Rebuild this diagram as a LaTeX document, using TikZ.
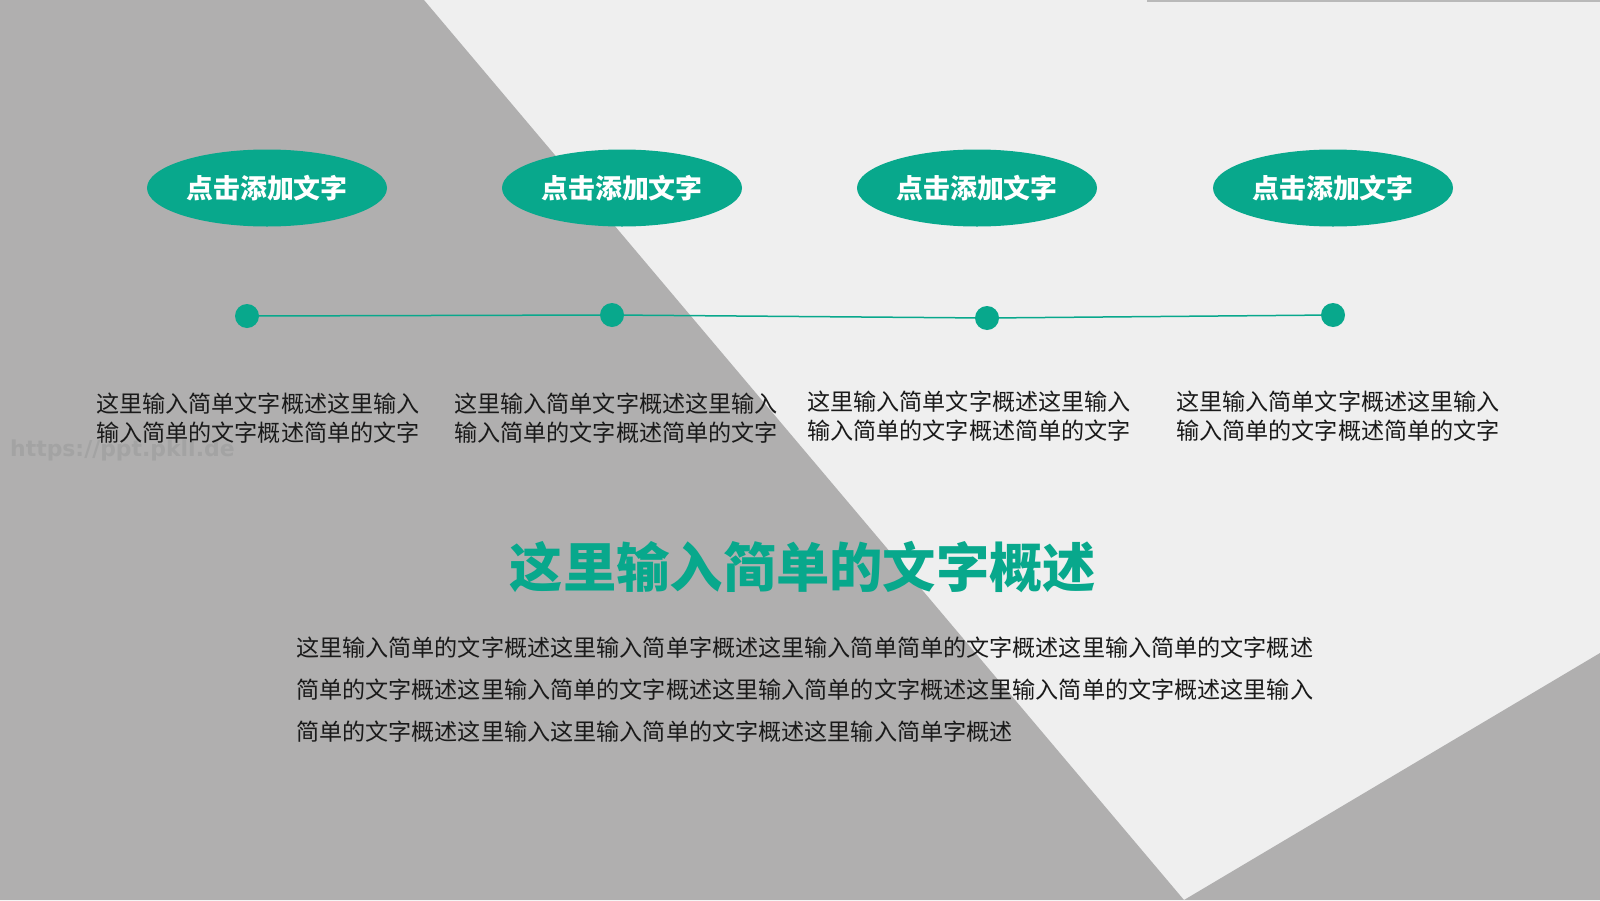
\documentclass[tikz,border=0pt]{standalone}
\usepackage{fontspec}
\setmainfont{Noto Sans CJK SC}
\newfontfamily\wmfont{DejaVu Sans}
\usetikzlibrary{shapes.geometric}
\definecolor{bggray}{RGB}{176,175,175}
\definecolor{bglight}{RGB}{239,239,239}
\definecolor{teal}{RGB}{8,168,140}
\definecolor{txt}{RGB}{26,26,26}
\definecolor{wm}{RGB}{163,163,163}
\tikzset{
  pill/.style={ellipse, fill=teal, minimum width=240bp, minimum height=77bp, inner sep=0pt,
    text=white, font=\fontsize{27}{31}\selectfont\bfseries},
  dot/.style={circle, fill=teal, minimum size=24bp, inner sep=0pt},
  link/.style={draw=teal, line width=1.5bp},
  small/.style={anchor=base west, inner sep=0pt, text=txt, font=\fontsize{23.2}{28}\selectfont},
  body/.style={anchor=base west, inner sep=0pt, text=txt, font=\fontsize{23.2}{28}\selectfont},
}
\begin{document}
\begin{tikzpicture}[x=1bp,y=-1bp]
\useasboundingbox (0,0) rectangle (1600,900);
\fill[bglight] (0,0) rectangle (1600,900);
\fill[bggray] (0,0) -- (424,0) -- (1184,900) -- (0,900) -- cycle;
\fill[bggray] (1184,900) -- (1600,653) -- (1600,900) -- cycle;
\fill[bggray!85!bglight] (1147,0) rectangle (1600,2);

\node[anchor=base west, inner sep=0pt, text=wm, font=\wmfont\bfseries\fontsize{22}{26}\selectfont] (wmark) at (10,456) {https://ppt.pkll.de};

\node[pill] (e1) at (267,188) {点击添加文字};
\node[pill] (e2) at (622,188) {点击添加文字};
\node[pill] (e3) at (977,188) {点击添加文字};
\node[pill] (e4) at (1333,188) {点击添加文字};

\node[dot] (d1) at (247,316) {};
\node[dot] (d2) at (612,315) {};
\node[dot] (d3) at (987,318) {};
\node[dot] (d4) at (1333,315) {};
\draw[link] (d1) -- (d2) -- (d3) -- (d4);

\node[small] (a1) at (96,412) {这里输入简单文字概述这里输入};
\node[small] (a2) at (96,441) {输入简单的文字概述简单的文字};
\node[small] (b1) at (454,412) {这里输入简单文字概述这里输入};
\node[small] (b2) at (454,441) {输入简单的文字概述简单的文字};
\node[small] (c1) at (807,410) {这里输入简单文字概述这里输入};
\node[small] (c2) at (807,439) {输入简单的文字概述简单的文字};
\node[small] (f1) at (1176,410) {这里输入简单文字概述这里输入};
\node[small] (f2) at (1176,439) {输入简单的文字概述简单的文字};

\node[anchor=base, inner sep=0pt, text=teal, font=\fontsize{53.5}{60}\selectfont\bfseries] (title) at (803,587) {这里输入简单的文字概述};

\node[body] (p1) at (296,656) {这里输入简单的文字概述这里输入简单字概述这里输入简单简单的文字概述这里输入简单的文字概述};
\node[body] (p2) at (296,698) {简单的文字概述这里输入简单的文字概述这里输入简单的文字概述这里输入简单的文字概述这里输入};
\node[body] (p3) at (296,740) {简单的文字概述这里输入这里输入简单的文字概述这里输入简单字概述};
\end{tikzpicture}
\end{document}
